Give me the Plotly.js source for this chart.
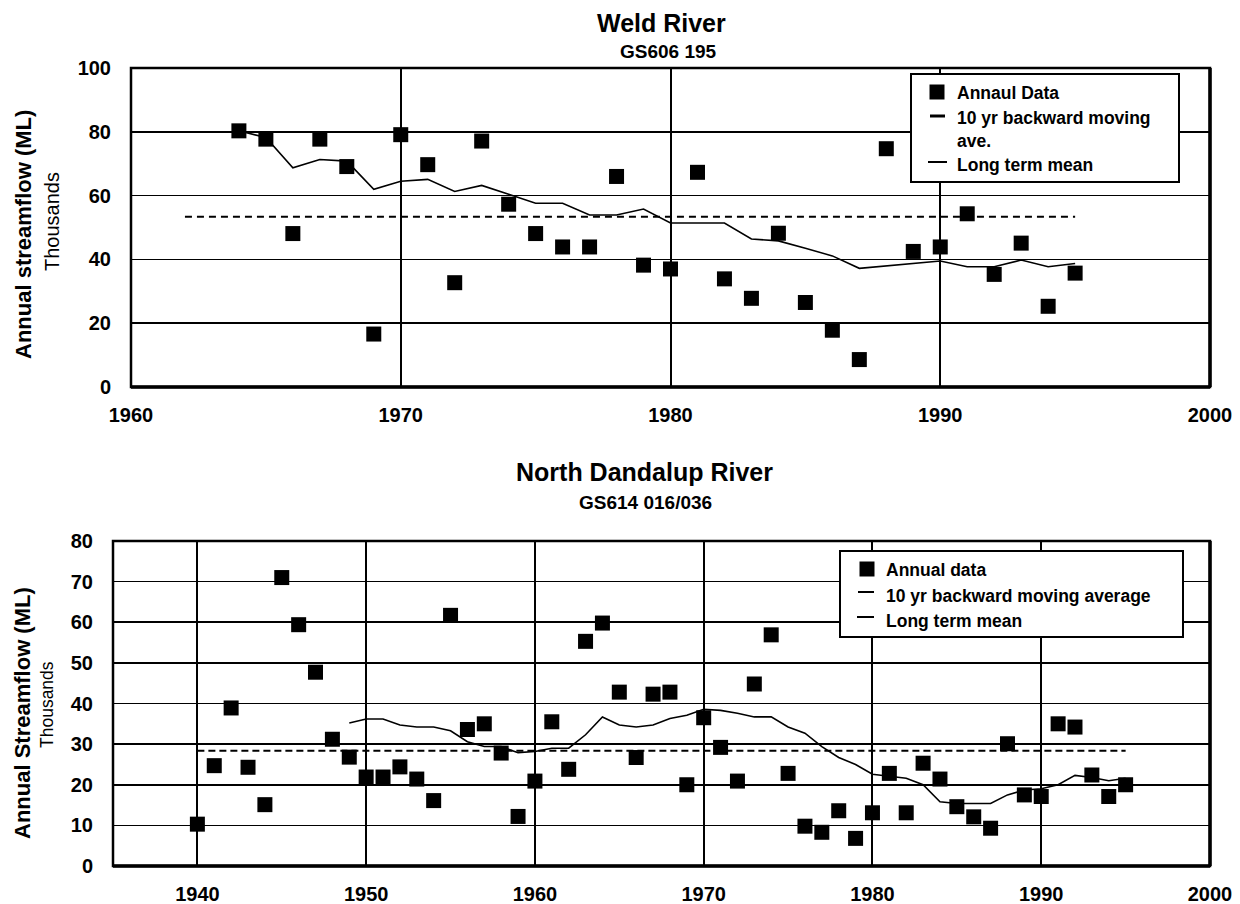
<!DOCTYPE html>
<html>
<head>
<meta charset="utf-8">
<script src="https://cdn.plot.ly/plotly-3.0.1.min.js"></script>
<style>
  html, body { margin: 0; padding: 0; background: #fff; }
  #chart { width: 1240px; height: 904px; }
</style>
</head>
<body>
<div id="chart"></div>
<script>
// ---- Weld River, GS606 195 (annual streamflow, thousands of ML) ----
const weldYears = [1964, 1965, 1966, 1967, 1968, 1969, 1970, 1971, 1972, 1973, 1974,
  1975, 1976, 1977, 1978, 1979, 1980, 1981, 1982, 1983, 1984, 1985, 1986, 1987,
  1988, 1989, 1990, 1991, 1992, 1993, 1994, 1995];
const weldAnnual = [80.3, 77.7, 48.1, 77.7, 69.1, 16.6, 79.1, 69.7, 32.7, 77.1, 57.3,
  48.1, 43.9, 43.9, 66.0, 38.2, 37.0, 67.3, 33.9, 27.8, 48.2, 26.5, 17.8, 8.6,
  74.7, 42.5, 43.9, 54.3, 35.3, 45.1, 25.3, 35.7];
const weldMoving = [80.3, 78.2, 68.7, 71.3, 70.8, 62.0, 64.5, 65.1, 61.3, 63.2, 60.4,
  57.6, 57.6, 53.9, 53.9, 55.8, 51.4, 51.4, 51.4, 46.4, 45.8, 43.5, 41.1, 37.2,
  37.9, 38.7, 39.5, 37.7, 37.7, 39.8, 37.7, 38.7];
const weldMeanYears = [1962, 1995];
const weldMean = 53.4;

// ---- North Dandalup River, GS614 016/036 ----
const ndYears = [1940, 1941, 1942, 1943, 1944, 1945, 1946, 1947, 1948, 1949,
  1950, 1951, 1952, 1953, 1954, 1955, 1956, 1957, 1958, 1959,
  1960, 1961, 1962, 1963, 1964, 1965, 1966, 1967, 1968, 1969,
  1970, 1971, 1972, 1973, 1974, 1975, 1976, 1977, 1978, 1979,
  1980, 1981, 1982, 1983, 1984, 1985, 1986, 1987, 1988, 1989,
  1990, 1991, 1992, 1993, 1994, 1995];
const ndAnnual = [10.3, 24.7, 38.9, 24.3, 15.1, 71.0, 59.4, 47.7, 31.2, 26.8,
  21.9, 21.9, 24.4, 21.4, 16.1, 61.7, 33.6, 35.0, 27.8, 12.2,
  20.9, 35.5, 23.8, 55.3, 59.8, 42.8, 26.7, 42.3, 42.8, 20.0,
  36.5, 29.2, 20.9, 44.8, 56.9, 22.8, 9.8, 8.3, 13.6, 6.8,
  13.1, 22.8, 13.1, 25.3, 21.4, 14.6, 12.1, 9.3, 30.1, 17.5,
  17.1, 35.0, 34.2, 22.4, 17.1, 20.0];
const ndMovingYears = [1949, 1950, 1951, 1952, 1953, 1954, 1955, 1956, 1957, 1958,
  1959, 1960, 1961, 1962, 1963, 1964, 1965, 1966, 1967, 1968,
  1969, 1970, 1971, 1972, 1973, 1974, 1975, 1976, 1977, 1978,
  1979, 1980, 1981, 1982, 1983, 1984, 1985, 1986, 1987, 1988,
  1989, 1990, 1991, 1992, 1993, 1994, 1995];
const ndMoving = [35.2, 36.2, 36.2, 34.7, 34.2, 34.2, 33.3, 30.6, 29.4, 29.4,
  27.9, 28.2, 29.0, 29.0, 32.3, 36.7, 34.7, 34.2, 34.7, 36.3,
  37.1, 38.6, 38.3, 37.6, 36.7, 36.7, 34.2, 32.7, 29.4, 26.7,
  25.0, 22.6, 22.1, 21.6, 20.0, 15.8, 15.4, 15.4, 15.4, 17.5,
  18.7, 19.0, 20.0, 22.3, 21.8, 21.0, 21.6];
const ndMeanYears = [1940, 1995];
const ndMean = 28.4;

// tick labels
const weldXTicks = [1960, 1970, 1980, 1990, 2000];
const weldYTicks = [0, 20, 40, 60, 80, 100];
const ndXTicks = [1940, 1950, 1960, 1970, 1980, 1990, 2000];
const ndYTicks = [0, 10, 20, 30, 40, 50, 60, 70, 80];

// ---- page geometry helpers (pixel -> paper fraction) ----
const W = 1240, H = 904;
const px = x => x / W;
const py = y => 1 - y / H;
const FONT = 'Arial, "Liberation Sans", Helvetica, sans-serif';
const INK = '#000';

const markerStyle = { symbol: 'square', size: 15, color: INK, line: { width: 0 } };

const traces = [
  { x: weldYears, y: weldAnnual, type: 'scatter', mode: 'markers', marker: markerStyle,
    xaxis: 'x', yaxis: 'y', showlegend: false },
  { x: weldYears, y: weldMoving, type: 'scatter', mode: 'lines',
    line: { color: INK, width: 1.6 }, xaxis: 'x', yaxis: 'y', showlegend: false },
  { x: weldMeanYears, y: weldMeanYears.map(() => weldMean), type: 'scatter', mode: 'lines',
    line: { color: INK, width: 2, dash: '7px,5px' }, xaxis: 'x', yaxis: 'y', showlegend: false },

  { x: ndYears, y: ndAnnual, type: 'scatter', mode: 'markers', marker: markerStyle,
    xaxis: 'x2', yaxis: 'y2', showlegend: false },
  { x: ndMovingYears, y: ndMoving, type: 'scatter', mode: 'lines',
    line: { color: INK, width: 1.6 }, xaxis: 'x2', yaxis: 'y2', showlegend: false },
  { x: ndMeanYears, y: ndMeanYears.map(() => ndMean), type: 'scatter', mode: 'lines',
    line: { color: INK, width: 2, dash: '7px,4px' }, xaxis: 'x2', yaxis: 'y2', showlegend: false }
];

const tickFont = { family: FONT, size: 20, color: INK, weight: 'bold' };

function xAxis(domain, range, ticks, anchor) {
  return {
    domain, range, anchor, tickvals: ticks, ticktext: ticks.map(String),
    showgrid: true, gridcolor: INK, gridwidth: 2, zeroline: false, showline: false,
    ticks: '', tickfont: tickFont, ticklabelstandoff: 14, fixedrange: true
  };
}
function yAxis(domain, range, ticks, anchor, standoff) {
  return {
    domain, range, anchor, tickvals: ticks, ticktext: ticks.map(String),
    showgrid: true, gridcolor: INK, gridwidth: 1.6, zeroline: false, showline: false,
    ticks: '', tickfont: tickFont, ticklabelstandoff: standoff, fixedrange: true
  };
}

// plot-area frames: thin top/left, heavier bottom/right
function frame(xr, yr) {
  return [
    { type: 'rect', xref: xr + ' domain', yref: yr + ' domain', x0: 0, x1: 1, y0: 0, y1: 1,
      line: { color: INK, width: 2.5 } },
    { type: 'line', xref: xr + ' domain', yref: yr + ' domain', x0: 0, x1: 1, y0: 0, y1: 0,
      line: { color: INK, width: 3.5 } },
    { type: 'line', xref: xr + ' domain', yref: yr + ' domain', x0: 1, x1: 1, y0: 0, y1: 1,
      line: { color: INK, width: 3.5 } }
  ];
}

// legend boxes and their symbols
function legendShapes(box, items) {
  const s = [{ type: 'rect', xref: 'paper', yref: 'paper',
    x0: px(box[0]), x1: px(box[2]), y0: py(box[3]), y1: py(box[1]),
    fillcolor: '#fff', line: { color: INK, width: 2 } }];
  items.forEach(it => {
    if (it.kind === 'square') {
      s.push({ type: 'rect', xref: 'paper', yref: 'paper',
        x0: px(it.x - it.size / 2), x1: px(it.x + it.size / 2),
        y0: py(it.y + it.size / 2), y1: py(it.y - it.size / 2),
        fillcolor: INK, line: { width: 0 } });
    } else {
      s.push({ type: 'line', xref: 'paper', yref: 'paper',
        x0: px(it.x0), x1: px(it.x1), y0: py(it.y), y1: py(it.y),
        line: { color: INK, width: it.w } });
    }
  });
  return s;
}

const shapes = [].concat(
  frame('x', 'y'),
  frame('x2', 'y2'),
  legendShapes([911, 74, 1179, 182], [
    { kind: 'square', x: 937, y: 92, size: 15 },
    { kind: 'line', x0: 930, x1: 945, y: 116, w: 3 },
    { kind: 'line', x0: 928, x1: 947, y: 162, w: 2 }
  ]),
  legendShapes([840, 551, 1183, 637], [
    { kind: 'square', x: 867, y: 569, size: 15 },
    { kind: 'line', x0: 858, x1: 874, y: 592, w: 2 },
    { kind: 'line', x0: 857, x1: 874, y: 617, w: 2 }
  ])
);

function label(text, x, y, size, opts) {
  return Object.assign({
    text, xref: 'paper', yref: 'paper', x: px(x), y: py(y),
    xanchor: 'center', yanchor: 'middle', showarrow: false,
    font: { family: FONT, size, color: INK, weight: 'bold' }
  }, opts || {});
}

const legendFont = 17.5;
const annotations = [
  label('Weld River', 661, 23, 25),
  label('GS606 195', 668, 52, 19),
  label('North Dandalup River', 644, 472, 25),
  label('GS614 016/036', 645, 502, 19),

  label('Annual streamflow (ML)', 23, 235, 22, { textangle: -90 }),
  label('Thousands', 52, 222, 20, { textangle: -90,
    font: { family: FONT, size: 20, color: INK, weight: 'normal' } }),
  label('Annual Streamflow (ML)', 22, 713, 22, { textangle: -90 }),
  label('Thousands', 47, 705, 17.5, { textangle: -90,
    font: { family: FONT, size: 17.5, color: INK, weight: 'normal' } }),

  label('Annaul Data', 955, 93, legendFont, { xanchor: 'left' }),
  label('10 yr backward moving<br>ave.', 955, 129, legendFont, { xanchor: 'left', align: 'left' }),
  label('Long term mean', 955, 165, legendFont, { xanchor: 'left' }),

  label('Annual data', 884, 570, legendFont, { xanchor: 'left' }),
  label('10 yr backward moving average', 884, 596, legendFont, { xanchor: 'left' }),
  label('Long term mean', 884, 621, legendFont, { xanchor: 'left' })
];

const layout = {
  width: W, height: H,
  margin: { l: 0, r: 0, t: 0, b: 0, pad: 0 },
  paper_bgcolor: '#fff', plot_bgcolor: '#fff',
  font: { family: FONT, color: INK },
  showlegend: false,
  xaxis: xAxis([px(131), px(1210)], [1960, 2000], weldXTicks, 'y'),
  yaxis: yAxis([py(387), py(68)], [0, 100], weldYTicks, 'x', 19),
  xaxis2: xAxis([px(113), px(1210)], [1935, 2000], ndXTicks, 'y2'),
  yaxis2: yAxis([py(866), py(541)], [0, 80], ndYTicks, 'x2', 19),
  shapes, annotations
};

Plotly.newPlot('chart', traces, layout, { staticPlot: true, displayModeBar: false });
</script>
</body>
</html>
